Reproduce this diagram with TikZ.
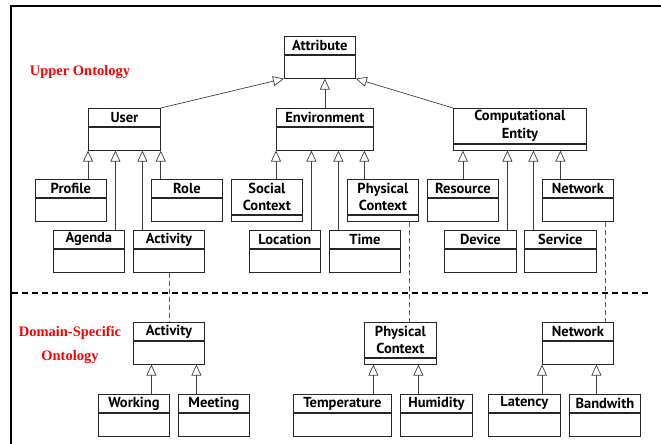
\documentclass[tikz,border=0pt]{standalone}
\usepackage{fontspec}
\setmainfont{Liberation Serif}
\setsansfont{PT Sans}
\usetikzlibrary{arrows.meta,positioning}

\begin{document}
\begin{tikzpicture}[x=1pt,y=-1pt,
    cls/.style={draw=black!85, line width=0.8pt, anchor=north west, minimum width=#1pt, minimum height=18pt, inner sep=0pt, font=\sffamily\bfseries\fontsize{14.5}{17.5}\selectfont},
    cls/.default=71,
    cls2/.style={cls=#1, minimum height=35pt, align=center},
    cls2/.default=71,
    body/.style={draw=black!85, line width=0.8pt, minimum width=#1pt, minimum height=23pt, inner sep=0pt},
    body/.default=71,
    body2/.style={body=#1, minimum height=6pt},
    body2/.default=71,
    inh/.style={draw=black!75, line width=0.7pt, -{Triangle[open, length=11pt, width=10pt]}},
    link/.style={draw=black!65, line width=0.7pt, dash pattern=on 5pt off 3pt},
    onto/.style={text=red, font=\bfseries\fontsize{14.5}{24}\selectfont, align=center}]
    \useasboundingbox (0,0) rectangle (661,444);
    \draw[line width=2pt] (661,6) -- (11,6) -- (11,444);

    \node[onto] (upper) at (80,72) {Upper Ontology};
    \node[onto] (domain) at (70,345) {Domain-Specific\\Ontology};

    % upper ontology
    \node[cls] (attr) at (284,36) {Attribute};
    \node[body, below=0pt of attr] (attr-b) {};
    \node[cls=72] (user) at (88,108) {User};
    \node[body=72, below=0pt of user] (user-b) {};
    \node[cls=97] (env) at (276,108) {Environment};
    \node[body=97, below=0pt of env] (env-b) {};
    \node[cls2=133] (comp) at (453,108) {Computational\\Entity};
    \node[body2=133, below=0pt of comp] (comp-b) {};

    \node[cls] (profile) at (35,179) {Profile};
    \node[body, below=0pt of profile] (profile-b) {};
    \node[cls] (role) at (151,179) {Role};
    \node[body, below=0pt of role] (role-b) {};
    \node[cls2] (social) at (231,179) {Social\\Context};
    \node[body2, below=0pt of social] (social-b) {};
    \node[cls2] (phys) at (347,179) {Physical\\Context};
    \node[body2, below=0pt of phys] (phys-b) {};
    \node[cls] (resource) at (427,179) {Resource};
    \node[body, below=0pt of resource] (resource-b) {};
    \node[cls] (net) at (542,179) {Network};
    \node[body, below=0pt of net] (net-b) {};

    \node[cls] (agenda) at (53,230) {Agenda};
    \node[body, below=0pt of agenda] (agenda-b) {};
    \node[cls] (act) at (133,230) {Activity};
    \node[body, below=0pt of act] (act-b) {};
    \node[cls] (location) at (249,230) {Location};
    \node[body, below=0pt of location] (location-b) {};
    \node[cls] (time) at (329,230) {Time};
    \node[body, below=0pt of time] (time-b) {};
    \node[cls=72] (device) at (444,230) {Device};
    \node[body=72, below=0pt of device] (device-b) {};
    \node[cls=72] (service) at (524,230) {Service};
    \node[body=72, below=0pt of service] (service-b) {};

    % domain-specific ontology
    \node[cls] (dact) at (133,322) {Activity};
    \node[body, below=0pt of dact] (dact-b) {};
    \node[cls2=72] (dphys) at (364,322) {Physical\\Context};
    \node[body2=72, below=0pt of dphys] (dphys-b) {};
    \node[cls] (dnet) at (542,322) {Network};
    \node[body, below=0pt of dnet] (dnet-b) {};

    \node[cls] (working) at (98,394) {Working};
    \node[body, below=0pt of working] (working-b) {};
    \node[cls] (meeting) at (178,394) {Meeting};
    \node[body, below=0pt of meeting] (meeting-b) {};
    \node[cls=98] (temp) at (293,394) {Temperature};
    \node[body=98, below=0pt of temp] (temp-b) {};
    \node[cls=72] (humidity) at (400,394) {Humidity};
    \node[body=72, below=0pt of humidity] (humidity-b) {};
    \node[cls=72] (latency) at (488,394) {Latency};
    \node[body=72, below=0pt of latency] (latency-b) {};
    \node[cls] (bandwith) at (569,394) {Bandwith};
    \node[body, below=0pt of bandwith] (bandwith-b) {};

    % generalisation
    \draw[inh] (user.north east) -- (attr-b.south west);
    \draw[inh] (env.north) -- (attr-b.south -| env.north);
    \draw[inh] (comp.north west) -- (attr-b.south east);

    \draw[inh] (profile.north -| user-b.south west) -- (user-b.south west);
    \draw[inh] ([xshift=26.5pt]agenda.north) -- ([xshift=26.5pt]agenda.north |- user-b.south);
    \draw[inh] ([xshift=-26.5pt]act.north) -- ([xshift=-26.5pt]act.north |- user-b.south);
    \draw[inh] (role.north -| user-b.south east) -- (user-b.south east);

    \draw[inh] (social.north -| env-b.south west) -- (env-b.south west);
    \draw[inh] ([xshift=26.5pt]location.north) -- ([xshift=26.5pt]location.north |- env-b.south);
    \draw[inh] ([xshift=-26.5pt]time.north) -- ([xshift=-26.5pt]time.north |- env-b.south);
    \draw[inh] ([xshift=-18.5pt]phys.north) -- ([xshift=-18.5pt]phys.north |- env-b.south);

    \draw[inh] (resource.north) -- (resource.north |- comp-b.south);
    \draw[inh] ([xshift=27pt]device.north) -- ([xshift=27pt]device.north |- comp-b.south);
    \draw[inh] ([xshift=-27pt]service.north) -- ([xshift=-27pt]service.north |- comp-b.south);
    \draw[inh] ([xshift=-17.5pt]net.north) -- ([xshift=-17.5pt]net.north |- comp-b.south);

    \draw[inh] ([xshift=17.5pt]working.north) -- ([xshift=17.5pt]working.north |- dact-b.south);
    \draw[inh] ([xshift=-17.5pt]meeting.north) -- ([xshift=-17.5pt]meeting.north |- dact-b.south);
    \draw[inh] ([xshift=31pt]temp.north) -- ([xshift=31pt]temp.north |- dphys-b.south);
    \draw[inh] ([xshift=-18pt]humidity.north) -- ([xshift=-18pt]humidity.north |- dphys-b.south);
    \draw[inh] (latency.north -| dnet-b.south west) -- (dnet-b.south west);
    \draw[inh] ([xshift=-8.5pt]bandwith.north) -- ([xshift=-8.5pt]bandwith.north |- dnet-b.south);

    % separator and links
    \draw[line width=1.2pt, dash pattern=on 6pt off 4pt] (12,293) -- (648,293);
    \draw[link] (act-b.south) -- (dact.north);
    \draw[link] ([xshift=26.5pt]phys-b.south) -- ([xshift=26.5pt]phys-b.south |- dphys.north);
    \draw[link] ([xshift=27pt]net-b.south) -- ([xshift=27pt]net-b.south |- dnet.north);
\end{tikzpicture}
\end{document}
